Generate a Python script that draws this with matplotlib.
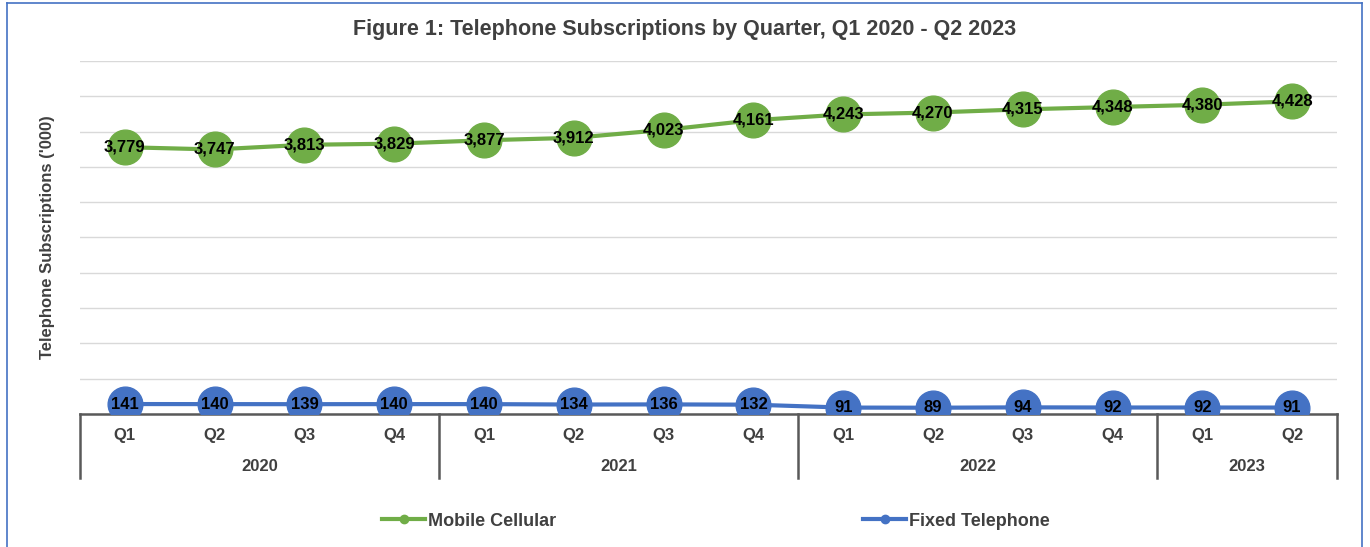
import matplotlib
matplotlib.use("Agg")
import matplotlib.pyplot as plt
import matplotlib.transforms as mtrans
from matplotlib.lines import Line2D

# Data
quarters = ["Q1", "Q2", "Q3", "Q4", "Q1", "Q2", "Q3", "Q4",
            "Q1", "Q2", "Q3", "Q4", "Q1", "Q2"]
years = ["2020", "2021", "2022", "2023"]
year_counts = [4, 4, 4, 2]
mobile = [3779, 3747, 3813, 3829, 3877, 3912, 4023, 4161,
          4243, 4270, 4315, 4348, 4380, 4428]
fixed = [141, 140, 139, 140, 140, 134, 136, 132,
         91, 89, 94, 92, 92, 91]

GREEN = "#70AD47"
BLUE = "#4472C4"
DARK = "#404040"
FONT = "Liberation Sans"

fig = plt.figure(figsize=(13.7, 5.47), dpi=100)
ax = fig.add_axes([80/1370, 1 - 414/547, (1337-80)/1370, (414-61)/547])

xs = list(range(len(quarters)))

ax.plot(xs, mobile, color=GREEN, lw=3, marker="o", ms=25,
        mec=GREEN, mfc=GREEN, zorder=3)
ax.plot(xs, fixed, color=BLUE, lw=3, marker="o", ms=25,
        mec=BLUE, mfc=BLUE, zorder=3)

for x, v in zip(xs, mobile):
    ax.text(x, v, f"{v:,}", ha="center", va="center", fontsize=12,
            fontweight="bold", color="black", family=FONT, zorder=4)
for x, v in zip(xs, fixed):
    ax.text(x, v, f"{v:,}", ha="center", va="center", fontsize=12,
            fontweight="bold", color="black", family=FONT, zorder=4)

ax.set_xlim(-0.5, len(quarters) - 0.5)
ax.set_ylim(0, 5000)
ax.set_yticks(range(0, 5001, 500))
ax.yaxis.grid(True, color="#D9D9D9", lw=1)
ax.set_axisbelow(True)
ax.tick_params(axis="y", length=0, labelleft=False)
ax.set_xticks([])
for s in ["top", "right", "left"]:
    ax.spines[s].set_visible(False)
ax.spines["bottom"].set_color("#595959")
ax.spines["bottom"].set_linewidth(1.8)

# multi-level category axis
trans = mtrans.blended_transform_factory(ax.transData, ax.transAxes)
for x, q in zip(xs, quarters):
    ax.text(x, -0.062, q, transform=trans, ha="center", va="center",
            fontsize=12, fontweight="bold", color=DARK, family=FONT)
start = 0
bounds = [-0.5]
for yr, n in zip(years, year_counts):
    mid = start + (n - 1) / 2
    ax.text(mid, -0.148, yr, transform=trans, ha="center", va="center",
            fontsize=12, fontweight="bold", color=DARK, family=FONT)
    start += n
    bounds.append(start - 0.5)
for b in bounds:
    ax.plot([b, b], [0, -0.18], transform=trans, color="#595959",
            lw=1.8, clip_on=False)

ax.set_ylabel("Telephone Subscriptions ('000)", fontsize=12,
              fontweight="bold", color=DARK, family=FONT, labelpad=18)

fig.text(0.5, 1 - 30/547, "Figure 1: Telephone Subscriptions by Quarter, Q1 2020 - Q2 2023",
         ha="center", va="center", fontsize=15.5, fontweight="bold",
         color=DARK, family=FONT)

handles = [Line2D([], [], color=GREEN, lw=3, marker="o", ms=6),
           Line2D([], [], color=BLUE, lw=3, marker="o", ms=6)]
fig.legend(handles, ["Mobile Cellular", "Fixed Telephone"], ncol=2,
           loc="center", bbox_to_anchor=(716/1370, 1 - 521/547),
           frameon=False, columnspacing=17, handlelength=2.4,
           handletextpad=0.15, prop={"family": FONT, "weight": "bold", "size": 13},
           labelcolor=DARK)

# figure border
border = dict(color=BLUE, lw=1.2, transform=fig.transFigure, clip_on=False)
fig.add_artist(Line2D([7/1370, 7/1370], [0, 1 - 3/547], **border))
fig.add_artist(Line2D([7/1370, 1362/1370], [1 - 3/547, 1 - 3/547], **border))
fig.add_artist(Line2D([1362/1370, 1362/1370], [0, 1 - 3/547], **border))

fig.savefig("out.png", dpi=100)
